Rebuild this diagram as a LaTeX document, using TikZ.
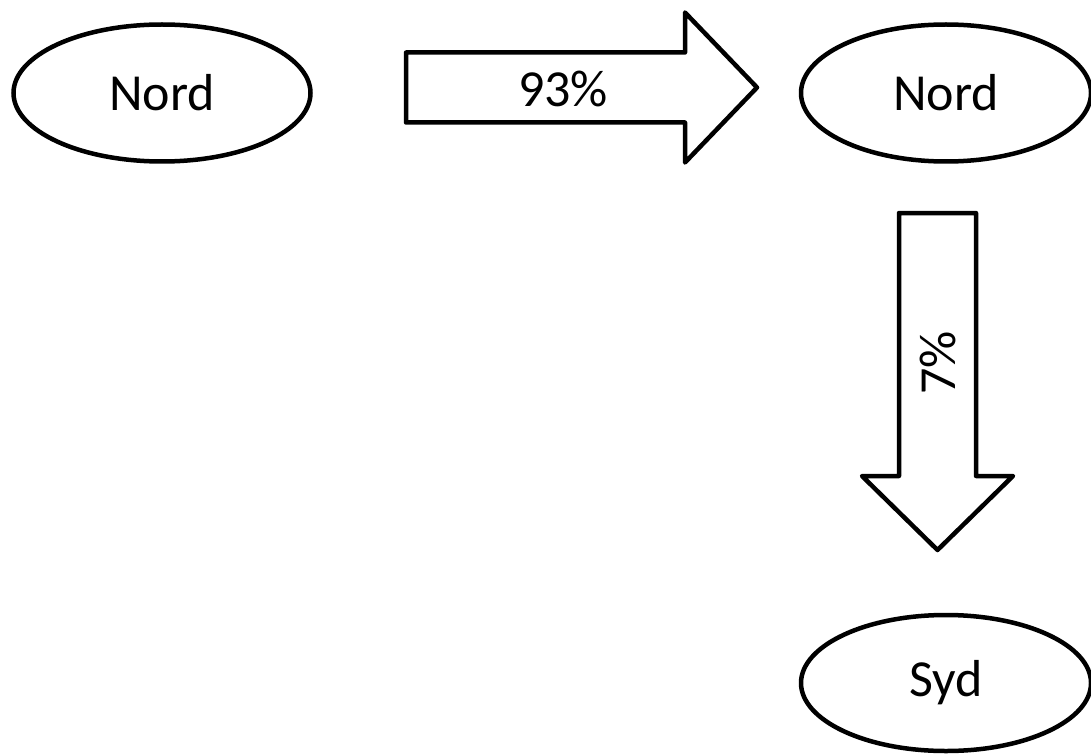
\documentclass[tikz,border=0pt]{standalone}
\usepackage{fontspec}
\setmainfont{Carlito}
\usetikzlibrary{shapes.geometric}
\begin{document}
\begin{tikzpicture}[x=1pt,y=-1pt,
  oval/.style={draw=black,line width=4.5pt,ellipse,inner sep=0pt,
    minimum width=297pt,minimum height=137pt,font=\fontsize{52}{60}\selectfont},
  blockarrow/.style={draw=black,line width=4.5pt,line join=round,fill=white},
  pct/.style={inner sep=0pt,font=\fontsize{52}{60}\selectfont}]
\useasboundingbox (0,0) rectangle (1091,754);
\node[oval] (nordL) at (162,93) {Nord};
\node[oval,minimum width=290pt] (nordR) at (946,93) {Nord};
\node[oval,minimum width=290pt,minimum height=136pt] (syd) at (946,683) {Syd};
% right block arrow
\draw[blockarrow] (406,52.5) -- (685,52.5) -- (685,12.5) -- (757,87.5)
  -- (685,162.5) -- (685,122.5) -- (406,122.5) -- cycle;
\node[pct] (p93) at (563,88.5) {93\%};
% down block arrow
\draw[blockarrow] (899,213) -- (976,213) -- (976,476) -- (1013,476)
  -- (937.5,550) -- (862,476) -- (899,476) -- cycle;
\node[pct,rotate=90] (p7) at (938,363) {7\%};
\end{tikzpicture}
\end{document}
